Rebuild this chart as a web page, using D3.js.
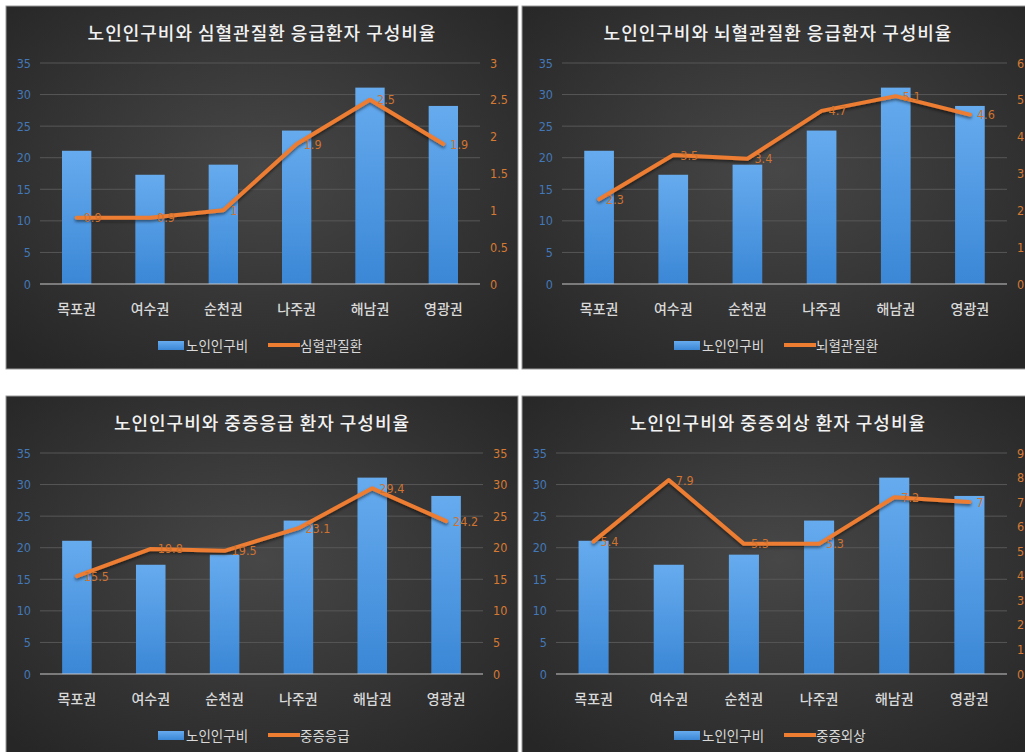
<!DOCTYPE html>
<html>
<head>
<meta charset="utf-8">
<script src="https://cdn.jsdelivr.net/npm/d3@7"></script>
<style>
  body { margin: 0; background: #ffffff; }
  svg { display: block; }
</style>
</head>
<body>
<script>
// 데이터
const categories = ['목포권', '여수권', '순천권', '나주권', '해남권', '영광권'];
const elderlyRatio = [21.1, 17.3, 18.9, 24.3, 31.1, 28.2];   // 노인인구비 (막대)
const cardioValues = [0.9, 0.9, 1.0, 1.9, 2.5, 1.9];          // 심혈관질환
const cerebroValues = [2.3, 3.5, 3.4, 4.7, 5.1, 4.6];         // 뇌혈관질환
const severeEmergValues = [15.5, 19.8, 19.5, 23.1, 29.4, 24.2]; // 중증응급
const severeTraumaValues = [5.4, 7.9, 5.3, 5.3, 7.2, 7.0];    // 중증외상
const leftTicks = [0, 5, 10, 15, 20, 25, 30, 35];
const cardioTicks = [0, 0.5, 1, 1.5, 2, 2.5, 3];
const cerebroTicks = [0, 1, 2, 3, 4, 5, 6];
const emergTicks = [0, 5, 10, 15, 20, 25, 30, 35];
const traumaTicks = [0, 1, 2, 3, 4, 5, 6, 7, 8, 9];

const panels = [
  {title: '노인인구비와 심혈관질환 응급환자 구성비율', name: '심혈관질환', values: cardioValues, ticks: cardioTicks,
   x: 6, y: 6, w: 512, h: 363, left: 34, right: 474},
  {title: '노인인구비와 뇌혈관질환 응급환자 구성비율', name: '뇌혈관질환', values: cerebroValues, ticks: cerebroTicks,
   x: 522, y: 6, w: 512, h: 363, left: 40, right: 485},
  {title: '노인인구비와 중증응급 환자 구성비율', name: '중증응급', values: severeEmergValues, ticks: emergTicks,
   x: 6, y: 396, w: 512, h: 363, left: 34, right: 477},
  {title: '노인인구비와 중증외상 환자 구성비율', name: '중증외상', values: severeTraumaValues, ticks: traumaTicks,
   x: 522, y: 396, w: 512, h: 363, left: 34, right: 485}
];

const svg = d3.select(document.body).append('svg')
  .attr('width', 1025)
  .attr('height', 752);

const defs = svg.append('defs');
const bg = defs.append('radialGradient').attr('id', 'bgGrad')
  .attr('cx', '50%').attr('cy', '45%').attr('r', '70%');
bg.append('stop').attr('offset', '0%').attr('stop-color', '#474747');
bg.append('stop').attr('offset', '100%').attr('stop-color', '#262626');

const barGrad = defs.append('linearGradient').attr('id', 'barGrad')
  .attr('x1', 0).attr('y1', 0).attr('x2', 0).attr('y2', 1);
barGrad.append('stop').attr('offset', '0%').attr('stop-color', '#66abee');
barGrad.append('stop').attr('offset', '100%').attr('stop-color', '#3b87d6');

const shadow = defs.append('filter').attr('id', 'shadow')
  .attr('x', '-10%').attr('y', '-20%').attr('width', '120%').attr('height', '140%');
shadow.append('feDropShadow').attr('dx', 0).attr('dy', 2).attr('stdDeviation', 1.5)
  .attr('flood-color', '#000').attr('flood-opacity', 0.5);

const numFont = '"Liberation Sans Narrow", "DejaVu Sans Condensed", "Liberation Sans", sans-serif';
const krFont = '"Noto Sans CJK KR", "Noto Sans", sans-serif';

panels.forEach(function(p){
  const g = svg.append('g').attr('transform', 'translate(' + p.x + ',' + p.y + ')');

  g.append('rect')
    .attr('width', p.w).attr('height', p.h)
    .attr('fill', 'url(#bgGrad)')
    .attr('stroke', '#9a9a9a').attr('stroke-width', 1);

  const top = 57, bottom = 278;

  const x = d3.scaleBand().domain(categories).range([p.left, p.right])
    .paddingInner(0.6).paddingOuter(0.3);
  const yL = d3.scaleLinear().domain([0, 35]).range([bottom, top]);
  const yR = d3.scaleLinear().domain([0, d3.max(p.ticks)]).range([bottom, top]);

  // 제목
  g.append('text')
    .attr('x', p.w / 2).attr('y', 26)
    .attr('text-anchor', 'middle').attr('dominant-baseline', 'central')
    .attr('fill', '#f2f2f2').attr('font-family', krFont)
    .attr('font-size', 18).attr('font-weight', 500).attr('letter-spacing', 1)
    .text(p.title);

  // 눈금선
  g.selectAll('.grid').data(leftTicks.filter(d => d > 0)).enter()
    .append('line')
    .attr('x1', p.left).attr('x2', p.right)
    .attr('y1', d => yL(d)).attr('y2', d => yL(d))
    .attr('stroke', '#575757').attr('stroke-width', 1);

  // 왼쪽 축
  g.selectAll('.lt').data(leftTicks).enter()
    .append('text')
    .attr('x', p.left - 9).attr('y', d => yL(d))
    .attr('text-anchor', 'end').attr('dominant-baseline', 'central')
    .attr('fill', '#4378b8').attr('font-family', numFont).attr('font-size', 12.5)
    .text(d => d);

  // 오른쪽 축
  g.selectAll('.rt').data(p.ticks).enter()
    .append('text')
    .attr('x', p.right + 10).attr('y', d => yR(d))
    .attr('text-anchor', 'start').attr('dominant-baseline', 'central')
    .attr('fill', '#d67a33').attr('font-family', numFont).attr('font-size', 12.5)
    .text(d => d);

  // 막대
  g.selectAll('.bar').data(elderlyRatio).enter()
    .append('rect')
    .attr('x', (d, i) => x(categories[i]))
    .attr('y', d => yL(d))
    .attr('width', x.bandwidth())
    .attr('height', d => yL(0) - yL(d))
    .attr('fill', 'url(#barGrad)');

  // 기준선
  g.append('line')
    .attr('x1', p.left).attr('x2', p.right)
    .attr('y1', yL(0)).attr('y2', yL(0))
    .attr('stroke', '#c8c8c8').attr('stroke-width', 1.2);

  // 꺾은선
  const cx = i => x(categories[i]) + x.bandwidth() / 2;
  const line = d3.line().x((d, i) => cx(i)).y(d => yR(d));
  g.append('path')
    .attr('d', line(p.values))
    .attr('fill', 'none')
    .attr('stroke', '#ed7d31').attr('stroke-width', 4)
    .attr('stroke-linejoin', 'round').attr('stroke-linecap', 'round')
    .attr('filter', 'url(#shadow)');

  // 데이터 레이블
  g.selectAll('.lbl').data(p.values).enter()
    .append('text')
    .attr('x', (d, i) => cx(i) + 7).attr('y', d => yR(d))
    .attr('dominant-baseline', 'central')
    .attr('fill', '#cf7330').attr('font-family', numFont).attr('font-size', 12.5)
    .text(d => String(d));

  // 분류 레이블
  g.selectAll('.cat').data(categories).enter()
    .append('text')
    .attr('x', d => x(d) + x.bandwidth() / 2).attr('y', 302)
    .attr('text-anchor', 'middle').attr('dominant-baseline', 'central')
    .attr('fill', '#d9d9d9').attr('font-family', krFont)
    .attr('font-size', 14).attr('font-weight', 500)
    .text(d => d);

  // 범례
  const lg = g.append('g').attr('transform', 'translate(' + (p.w / 2 - 104) + ',339)');
  lg.append('rect').attr('x', 0).attr('y', -4).attr('width', 26).attr('height', 9)
    .attr('fill', 'url(#barGrad)');
  lg.append('text').attr('x', 28).attr('y', 0)
    .attr('dominant-baseline', 'central')
    .attr('fill', '#d9d9d9').attr('font-family', krFont).attr('font-size', 13.5)
    .text('노인인구비');
  lg.append('line').attr('x1', 110).attr('x2', 142).attr('y1', 0).attr('y2', 0)
    .attr('stroke', '#ed7d31').attr('stroke-width', 4);
  lg.append('text').attr('x', 142).attr('y', 0)
    .attr('dominant-baseline', 'central')
    .attr('fill', '#d9d9d9').attr('font-family', krFont).attr('font-size', 13.5)
    .text(p.name);
});
</script>
</body>
</html>
